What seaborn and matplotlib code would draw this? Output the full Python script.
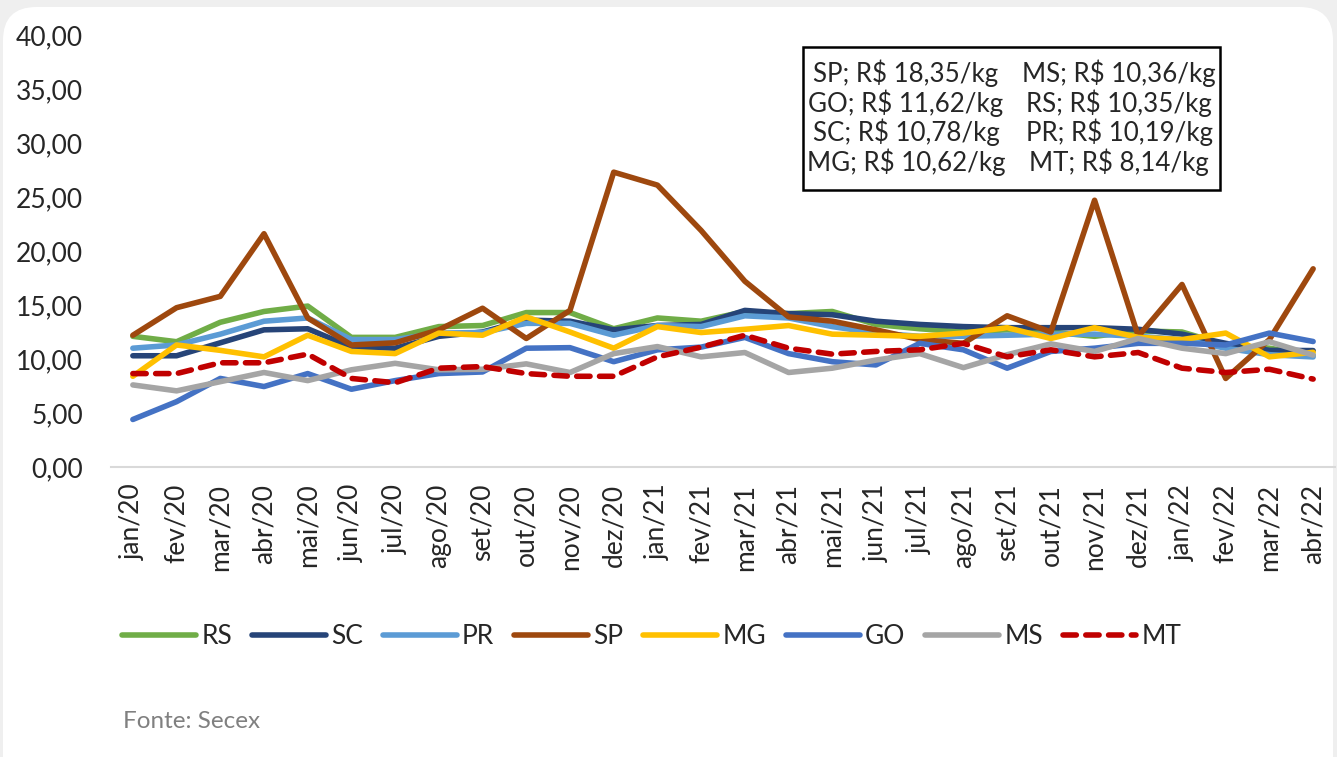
import numpy as np
import pandas as pd
import matplotlib
matplotlib.use("Agg")
import matplotlib.pyplot as plt
from matplotlib.patches import FancyBboxPatch
from matplotlib.lines import Line2D
import seaborn as sns

sns.set_style("white")
plt.rcParams['font.family'] = ['Lato', 'DejaVu Sans']

meses = ['jan/20', 'fev/20', 'mar/20', 'abr/20', 'mai/20', 'jun/20', 'jul/20', 'ago/20',
         'set/20', 'out/20', 'nov/20', 'dez/20', 'jan/21', 'fev/21', 'mar/21', 'abr/21',
         'mai/21', 'jun/21', 'jul/21', 'ago/21', 'set/21', 'out/21', 'nov/21', 'dez/21',
         'jan/22', 'fev/22', 'mar/22', 'abr/22']

RS = [12.1, 11.6, 13.4, 14.4, 14.9, 12.0, 12.0, 13.0, 13.1, 14.3, 14.3, 12.8, 13.8, 13.5,
      14.4, 14.2, 14.4, 13.2, 12.8, 12.5, 12.7, 12.5, 12.1, 12.6, 12.5, 11.3, 11.0, 10.35]
SC = [10.3, 10.3, 11.5, 12.7, 12.8, 11.1, 11.0, 12.1, 12.5, 13.6, 13.5, 12.7, 13.1, 13.2,
      14.5, 14.2, 14.1, 13.5, 13.2, 13.0, 12.9, 12.9, 12.9, 12.75, 12.3, 11.45, 10.8, 10.78]
PR = [11.0, 11.3, 12.3, 13.5, 13.8, 11.8, 11.8, 12.4, 12.45, 13.3, 13.3, 12.2, 13.1, 13.0,
      14.0, 13.8, 13.0, 12.4, 12.1, 12.1, 12.2, 12.3, 12.3, 12.1, 11.8, 11.0, 10.4, 10.19]
SP = [12.2, 14.75, 15.8, 21.6, 13.8, 11.3, 11.5, 12.7, 14.7, 11.9, 14.5, 27.3, 26.1, 21.9,
      17.2, 13.9, 13.5, 12.7, 11.8, 11.45, 14.0, 12.5, 24.7, 12.1, 16.9, 8.2, 11.8, 18.35]
MG = [8.4, 11.3, 10.8, 10.2, 12.2, 10.7, 10.5, 12.4, 12.2, 13.9, 12.5, 11.0, 13.0, 12.45,
      12.75, 13.1, 12.3, 12.2, 12.1, 12.4, 12.9, 11.9, 12.9, 12.0, 11.8, 12.4, 10.2, 10.62]
GO = [4.4, 6.05, 8.2, 7.45, 8.65, 7.2, 8.0, 8.65, 8.8, 11.0, 11.05, 9.75, 10.85, 11.1,
      12.0, 10.5, 9.75, 9.45, 11.45, 10.85, 9.15, 10.7, 11.0, 11.45, 11.45, 11.3, 12.4, 11.62]
MS = [7.6, 7.05, 7.9, 8.75, 8.0, 9.0, 9.6, 9.0, 9.05, 9.55, 8.75, 10.5, 11.15, 10.2,
      10.6, 8.75, 9.15, 9.9, 10.5, 9.2, 10.4, 11.4, 10.7, 11.9, 11.0, 10.5, 11.6, 10.36]
MT = [8.65, 8.65, 9.65, 9.65, 10.45, 8.2, 7.8, 9.15, 9.3, 8.65, 8.4, 8.4, 10.2, 11.1,
      12.2, 11.0, 10.45, 10.7, 10.85, 11.45, 10.2, 10.85, 10.2, 10.6, 9.15, 8.75, 9.05, 8.14]

estados = ['RS', 'SC', 'PR', 'SP', 'MG', 'GO', 'MS', 'MT']
series = [RS, SC, PR, SP, MG, GO, MS, MT]
cores = ['#70AD47', '#264478', '#5B9BD5', '#9E480E', '#FFC000', '#4472C4', '#A5A5A5', '#C00000']

caixa = [['SP; R$ 18,35/kg', 'MS; R$ 10,36/kg'],
         ['GO; R$ 11,62/kg', 'RS; R$ 10,35/kg'],
         ['SC; R$ 10,78/kg', 'PR; R$ 10,19/kg'],
         ['MG; R$ 10,62/kg', 'MT; R$ 8,14/kg']]

df = pd.DataFrame({'mes': np.arange(len(meses))})
for nome, vals in zip(estados, series):
    df[nome] = vals

W, H = 1337, 757
fig = plt.figure(figsize=(W / 100, H / 100), dpi=100)
fig.patch.set_facecolor('#efefef')
card = FancyBboxPatch((3 / W, -0.05), (1333 - 3) / W, (757 - 7) / H + 0.05,
                      boxstyle="round,pad=0,rounding_size=0.025",
                      transform=fig.transFigure, facecolor='white', edgecolor='none',
                      mutation_aspect=W / H, zorder=-10)
fig.patches.append(card)

ax = fig.add_axes([111 / W, 1 - 467 / H, (1335 - 111) / W, (467 - 35) / H])
ax.set_facecolor('none')
ax.set_zorder(1)

LW = 4.0
DASH = (0, (2.4, 1.7))
for nome, cor in zip(estados, cores):
    sns.lineplot(data=df, x='mes', y=nome, ax=ax, color=cor, linewidth=LW)
    ln = ax.lines[-1]
    if nome == 'MT':
        ln.set_linestyle(DASH)
        ln.set_dash_capstyle('round')
    else:
        ln.set_solid_capstyle('round')

ax.set_xlim(-0.5, len(meses) - 0.5)
ax.set_ylim(0, 40)
ax.set_yticks(np.arange(0, 41, 5))
ax.set_yticklabels([f'{v:.2f}'.replace('.', ',') for v in np.arange(0, 41, 5)], fontsize=19)
ax.set_xticks(np.arange(len(meses)))
ax.set_xticklabels(meses, rotation=90, fontsize=19)
ax.set_xticks(np.arange(-0.5, len(meses), 1), minor=True)
ax.tick_params(axis='x', which='major', length=0, pad=12)
ax.tick_params(axis='x', which='minor', length=8, color='#d9d9d9', width=1.5, direction='out')
ax.tick_params(axis='y', length=0, pad=20)
ax.set_xlabel('')
ax.set_ylabel('')
for s in ['top', 'right', 'left']:
    ax.spines[s].set_visible(False)
ax.spines['bottom'].set_color('#d9d9d9')
ax.spines['bottom'].set_linewidth(1.5)

# caixa de valores
bx0, by0, bx1, by1 = 803, 47, 1220, 190
ax.add_patch(plt.Rectangle((bx0 / W, 1 - by1 / H), (bx1 - bx0) / W, (by1 - by0) / H,
                           transform=fig.transFigure, facecolor='white',
                           edgecolor='black', linewidth=1.8, zorder=5, clip_on=False))
linhas_y = [73, 103, 132, 162]
for (esq, dir_), yy in zip(caixa, linhas_y):
    ax.text(906 / W, 1 - yy / H, esq, ha='center', va='center', fontsize=18.6,
            transform=fig.transFigure, zorder=6)
    ax.text(1119 / W, 1 - yy / H, dir_, ha='center', va='center', fontsize=18.6,
            transform=fig.transFigure, zorder=6)

handles = []
for nome, cor in zip(estados, cores):
    if nome == 'MT':
        h = Line2D([], [], color=cor, linewidth=LW, linestyle=DASH, dash_capstyle='round')
    else:
        h = Line2D([], [], color=cor, linewidth=LW, solid_capstyle='round')
    handles.append(h)
fig.legend(handles, estados, loc='center', bbox_to_anchor=(652 / W, 1 - 637 / H), ncol=8,
           frameon=False, fontsize=19, handlelength=2.8, handletextpad=0.2,
           columnspacing=0.75)

fig.text(123 / W, 1 - 721 / H, 'Fonte: Secex', fontsize=17.5, color='#808080', va='center')

fig.savefig('out.png', dpi=100, facecolor=fig.get_facecolor())
